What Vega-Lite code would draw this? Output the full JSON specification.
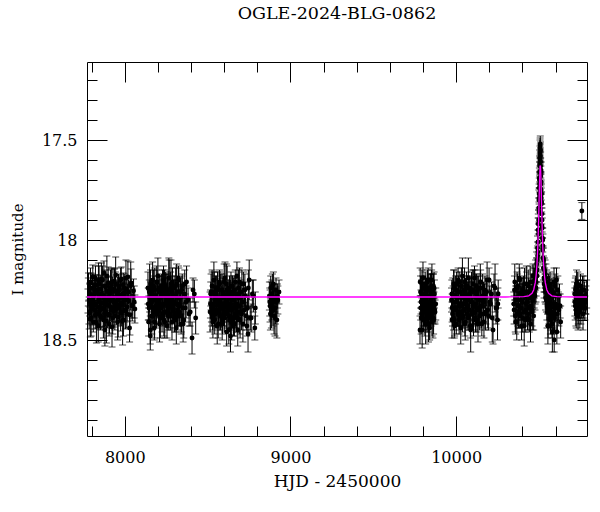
{
  "$schema": "https://vega.github.io/schema/vega-lite/v6.json",
  "width": 500,
  "height": 374,
  "autosize": "none",
  "padding": {"left": 87, "top": 62, "right": 13, "bottom": 76},
  "background": "white",
  "title": {"text": "OGLE-2024-BLG-0862", "font": "DejaVu Serif", "fontSize": 17.5, "fontWeight": "normal", "color": "black", "frame": "group", "anchor": "middle", "baseline": "alphabetic", "offset": 25},
  "config": {
    "view": {"stroke": "black", "strokeWidth": 1},
    "font": "DejaVu Serif",
    "axis": {"domain": false, "grid": false, "tickColor": "black", "tickWidth": 1, "labelColor": "black", "titleColor": "black", "labelFont": "DejaVu Serif", "titleFont": "DejaVu Serif", "labelFontSize": 16, "titleFontSize": 17, "titleFontWeight": "normal", "labelFlush": false, "labelOverlap": false, "labelBound": false}
  },
  "datasets": {
    "obs": [
      {"hjd":7778,"mag":18.305,"err":0.06},{"hjd":7781,"mag":18.235,"err":0.07},{"hjd":7785,"mag":18.365,"err":0.08},{"hjd":7789,"mag":18.275,"err":0.06},{"hjd":7792,"mag":18.395,"err":0.09},{"hjd":7796,"mag":18.215,"err":0.05},{"hjd":7800,"mag":18.315,"err":0.07},{"hjd":7803,"mag":18.345,"err":0.08},{"hjd":7807,"mag":18.185,"err":0.06},{"hjd":7811,"mag":18.285,"err":0.07},
      {"hjd":7815,"mag":18.325,"err":0.06},{"hjd":7818,"mag":18.255,"err":0.08},{"hjd":7822,"mag":18.375,"err":0.07},{"hjd":7826,"mag":18.225,"err":0.05},{"hjd":7829,"mag":18.415,"err":0.10},{"hjd":7833,"mag":18.265,"err":0.06},{"hjd":7837,"mag":18.335,"err":0.07},{"hjd":7841,"mag":18.205,"err":0.09},{"hjd":7844,"mag":18.295,"err":0.06},{"hjd":7848,"mag":18.355,"err":0.08},
      {"hjd":7852,"mag":18.245,"err":0.07},{"hjd":7856,"mag":18.385,"err":0.06},{"hjd":7859,"mag":18.195,"err":0.08},{"hjd":7863,"mag":18.315,"err":0.07},{"hjd":7867,"mag":18.275,"err":0.05},{"hjd":7870,"mag":18.345,"err":0.09},{"hjd":7874,"mag":18.165,"err":0.06},{"hjd":7878,"mag":18.365,"err":0.07},{"hjd":7882,"mag":18.305,"err":0.08},{"hjd":7885,"mag":18.235,"err":0.06},
      {"hjd":7889,"mag":18.405,"err":0.11},{"hjd":7893,"mag":18.255,"err":0.07},{"hjd":7897,"mag":18.325,"err":0.06},{"hjd":7900,"mag":18.215,"err":0.08},{"hjd":7904,"mag":18.285,"err":0.07},{"hjd":7908,"mag":18.375,"err":0.09},{"hjd":7912,"mag":18.265,"err":0.06},{"hjd":7915,"mag":18.335,"err":0.07},{"hjd":7919,"mag":18.225,"err":0.08},{"hjd":7923,"mag":18.435,"err":0.10},
      {"hjd":7927,"mag":18.245,"err":0.06},{"hjd":7930,"mag":18.295,"err":0.07},{"hjd":7934,"mag":18.355,"err":0.08},{"hjd":7938,"mag":18.205,"err":0.06},{"hjd":7942,"mag":18.315,"err":0.07},{"hjd":7945,"mag":18.175,"err":0.09},{"hjd":7949,"mag":18.345,"err":0.08},{"hjd":7953,"mag":18.305,"err":0.06},{"hjd":7957,"mag":18.255,"err":0.07},{"hjd":7960,"mag":18.385,"err":0.10},
      {"hjd":7964,"mag":18.235,"err":0.06},{"hjd":7968,"mag":18.325,"err":0.08},{"hjd":7972,"mag":18.275,"err":0.07},{"hjd":7975,"mag":18.365,"err":0.09},{"hjd":7979,"mag":18.195,"err":0.06},{"hjd":7983,"mag":18.315,"err":0.07},{"hjd":7987,"mag":18.405,"err":0.12},{"hjd":7991,"mag":18.225,"err":0.06},{"hjd":7995,"mag":18.295,"err":0.08},{"hjd":7999,"mag":18.265,"err":0.07},
      {"hjd":8004,"mag":18.355,"err":0.09},{"hjd":8009,"mag":18.245,"err":0.06},{"hjd":8014,"mag":18.335,"err":0.07},{"hjd":8019,"mag":18.185,"err":0.08},{"hjd":8025,"mag":18.305,"err":0.06},{"hjd":8031,"mag":18.375,"err":0.10},{"hjd":8038,"mag":18.215,"err":0.07},{"hjd":8045,"mag":18.325,"err":0.08},{"hjd":8053,"mag":18.255,"err":0.06},{"hjd":8061,"mag":18.345,"err":0.07},
      {"hjd":7880,"mag":18.45,"err":0.08},
      {"hjd":7780,"mag":18.26,"err":0.07},{"hjd":7784,"mag":18.36,"err":0.06},{"hjd":7788,"mag":18.30,"err":0.08},{"hjd":7793,"mag":18.21,"err":0.07},{"hjd":7797,"mag":18.39,"err":0.09},{"hjd":7802,"mag":18.33,"err":0.06},{"hjd":7806,"mag":18.24,"err":0.07},{"hjd":7810,"mag":18.41,"err":0.05},{"hjd":7814,"mag":18.28,"err":0.08},{"hjd":7819,"mag":18.35,"err":0.07},
      {"hjd":7823,"mag":18.19,"err":0.06},{"hjd":7827,"mag":18.32,"err":0.10},{"hjd":7832,"mag":18.37,"err":0.07},{"hjd":7836,"mag":18.25,"err":0.06},{"hjd":7840,"mag":18.43,"err":0.08},{"hjd":7845,"mag":18.22,"err":0.09},{"hjd":7849,"mag":18.31,"err":0.06},{"hjd":7853,"mag":18.38,"err":0.07},{"hjd":7858,"mag":18.27,"err":0.08},{"hjd":7862,"mag":18.34,"err":0.06},
      {"hjd":7866,"mag":18.20,"err":0.07},{"hjd":7871,"mag":18.40,"err":0.09},{"hjd":7875,"mag":18.29,"err":0.06},{"hjd":7880,"mag":18.23,"err":0.08},{"hjd":7884,"mag":18.36,"err":0.07},{"hjd":7888,"mag":18.32,"err":0.06},{"hjd":7892,"mag":18.18,"err":0.10},{"hjd":7897,"mag":18.37,"err":0.07},{"hjd":7901,"mag":18.26,"err":0.08},{"hjd":7905,"mag":18.42,"err":0.06},
      {"hjd":7910,"mag":18.30,"err":0.07},{"hjd":7914,"mag":18.24,"err":0.09},{"hjd":7918,"mag":18.35,"err":0.06},{"hjd":7923,"mag":18.21,"err":0.07},{"hjd":7927,"mag":18.39,"err":0.08},{"hjd":7931,"mag":18.31,"err":0.06},{"hjd":7936,"mag":18.25,"err":0.11},{"hjd":7940,"mag":18.38,"err":0.07},{"hjd":7944,"mag":18.22,"err":0.06},{"hjd":7949,"mag":18.33,"err":0.08},
      {"hjd":7953,"mag":18.28,"err":0.07},{"hjd":7957,"mag":18.41,"err":0.09},{"hjd":7962,"mag":18.23,"err":0.06},{"hjd":7966,"mag":18.34,"err":0.07},{"hjd":7970,"mag":18.29,"err":0.08},{"hjd":7975,"mag":18.20,"err":0.06},{"hjd":7979,"mag":18.36,"err":0.07},{"hjd":7983,"mag":18.32,"err":0.10},{"hjd":7988,"mag":18.27,"err":0.06},{"hjd":7992,"mag":18.40,"err":0.08},
      {"hjd":7997,"mag":18.24,"err":0.07},{"hjd":8002,"mag":18.35,"err":0.06},{"hjd":8007,"mag":18.19,"err":0.09},{"hjd":8012,"mag":18.37,"err":0.07},{"hjd":8017,"mag":18.30,"err":0.08},{"hjd":8023,"mag":18.26,"err":0.06},{"hjd":8029,"mag":18.44,"err":0.07},{"hjd":8036,"mag":18.23,"err":0.12},{"hjd":8044,"mag":18.33,"err":0.06},{"hjd":8057,"mag":18.31,"err":0.08},
      {"hjd":8140,"mag":18.24,"err":0.08},{"hjd":8144,"mag":18.41,"err":0.07},{"hjd":8148,"mag":18.26,"err":0.06},{"hjd":8151,"mag":18.33,"err":0.08},{"hjd":8155,"mag":18.22,"err":0.07},{"hjd":8159,"mag":18.29,"err":0.05},{"hjd":8163,"mag":18.38,"err":0.09},{"hjd":8166,"mag":18.27,"err":0.06},{"hjd":8170,"mag":18.34,"err":0.07},{"hjd":8174,"mag":18.23,"err":0.08},
      {"hjd":8178,"mag":18.44,"err":0.06},{"hjd":8181,"mag":18.25,"err":0.11},{"hjd":8185,"mag":18.30,"err":0.07},{"hjd":8189,"mag":18.36,"err":0.06},{"hjd":8193,"mag":18.21,"err":0.08},{"hjd":8196,"mag":18.32,"err":0.07},{"hjd":8200,"mag":18.18,"err":0.09},{"hjd":8204,"mag":18.35,"err":0.06},{"hjd":8208,"mag":18.31,"err":0.07},{"hjd":8211,"mag":18.26,"err":0.08},
      {"hjd":8215,"mag":18.39,"err":0.10},{"hjd":8219,"mag":18.24,"err":0.06},{"hjd":8223,"mag":18.33,"err":0.07},{"hjd":8226,"mag":18.28,"err":0.08},{"hjd":8230,"mag":18.37,"err":0.06},{"hjd":8234,"mag":18.20,"err":0.07},{"hjd":8238,"mag":18.32,"err":0.09},{"hjd":8241,"mag":18.41,"err":0.08},{"hjd":8245,"mag":18.23,"err":0.06},{"hjd":8249,"mag":18.30,"err":0.07},
      {"hjd":8253,"mag":18.27,"err":0.10},{"hjd":8256,"mag":18.36,"err":0.06},{"hjd":8260,"mag":18.25,"err":0.08},{"hjd":8264,"mag":18.34,"err":0.07},{"hjd":8268,"mag":18.19,"err":0.09},{"hjd":8271,"mag":18.31,"err":0.06},{"hjd":8275,"mag":18.38,"err":0.07},{"hjd":8279,"mag":18.22,"err":0.12},{"hjd":8283,"mag":18.33,"err":0.06},{"hjd":8286,"mag":18.26,"err":0.08},
      {"hjd":8290,"mag":18.35,"err":0.07},{"hjd":8294,"mag":18.31,"err":0.09},{"hjd":8298,"mag":18.24,"err":0.06},{"hjd":8301,"mag":18.37,"err":0.07},{"hjd":8305,"mag":18.28,"err":0.08},{"hjd":8309,"mag":18.40,"err":0.06},{"hjd":8313,"mag":18.22,"err":0.10},{"hjd":8316,"mag":18.32,"err":0.07},{"hjd":8320,"mag":18.35,"err":0.08},{"hjd":8324,"mag":18.19,"err":0.06},
      {"hjd":8328,"mag":18.29,"err":0.07},{"hjd":8332,"mag":18.33,"err":0.06},{"hjd":8337,"mag":18.26,"err":0.07},{"hjd":8342,"mag":18.38,"err":0.08},{"hjd":8347,"mag":18.23,"err":0.06},{"hjd":8352,"mag":18.42,"err":0.09},{"hjd":8358,"mag":18.27,"err":0.05},{"hjd":8365,"mag":18.34,"err":0.07},{"hjd":8373,"mag":18.21,"err":0.08},{"hjd":8382,"mag":18.30,"err":0.06},
      {"hjd":8395,"mag":18.36,"err":0.07},{"hjd":8412,"mag":18.25,"err":0.06},{"hjd":8428,"mag":18.39,"err":0.08},{"hjd":8406,"mag":18.49,"err":0.08},{"hjd":8154,"mag":18.48,"err":0.07},
      {"hjd":8142,"mag":18.32,"err":0.08},{"hjd":8146,"mag":18.34,"err":0.06},{"hjd":8150,"mag":18.24,"err":0.12},{"hjd":8154,"mag":18.45,"err":0.07},{"hjd":8157,"mag":18.27,"err":0.06},{"hjd":8161,"mag":18.31,"err":0.08},{"hjd":8165,"mag":18.38,"err":0.07},{"hjd":8168,"mag":18.20,"err":0.09},{"hjd":8172,"mag":18.36,"err":0.06},{"hjd":8176,"mag":18.25,"err":0.07},
      {"hjd":8180,"mag":18.41,"err":0.08},{"hjd":8183,"mag":18.28,"err":0.06},{"hjd":8187,"mag":18.33,"err":0.10},{"hjd":8191,"mag":18.37,"err":0.07},{"hjd":8195,"mag":18.21,"err":0.06},{"hjd":8198,"mag":18.30,"err":0.08},{"hjd":8202,"mag":18.35,"err":0.07},{"hjd":8206,"mag":18.24,"err":0.06},{"hjd":8210,"mag":18.42,"err":0.09},{"hjd":8213,"mag":18.29,"err":0.07},
      {"hjd":8217,"mag":18.34,"err":0.08},{"hjd":8221,"mag":18.23,"err":0.06},{"hjd":8225,"mag":18.39,"err":0.07},{"hjd":8228,"mag":18.26,"err":0.11},{"hjd":8232,"mag":18.32,"err":0.06},{"hjd":8236,"mag":18.40,"err":0.08},{"hjd":8240,"mag":18.22,"err":0.07},{"hjd":8243,"mag":18.36,"err":0.06},{"hjd":8247,"mag":18.25,"err":0.09},{"hjd":8251,"mag":18.31,"err":0.07},
      {"hjd":8255,"mag":18.43,"err":0.06},{"hjd":8258,"mag":18.27,"err":0.08},{"hjd":8262,"mag":18.38,"err":0.07},{"hjd":8266,"mag":18.19,"err":0.10},{"hjd":8270,"mag":18.33,"err":0.06},{"hjd":8273,"mag":18.37,"err":0.07},{"hjd":8277,"mag":18.24,"err":0.08},{"hjd":8281,"mag":18.30,"err":0.06},{"hjd":8285,"mag":18.41,"err":0.09},{"hjd":8288,"mag":18.21,"err":0.07},
      {"hjd":8292,"mag":18.35,"err":0.06},{"hjd":8296,"mag":18.28,"err":0.08},{"hjd":8300,"mag":18.39,"err":0.07},{"hjd":8303,"mag":18.32,"err":0.06},{"hjd":8307,"mag":18.23,"err":0.09},{"hjd":8311,"mag":18.44,"err":0.08},{"hjd":8315,"mag":18.26,"err":0.06},{"hjd":8318,"mag":18.38,"err":0.07},{"hjd":8322,"mag":18.33,"err":0.10},{"hjd":8326,"mag":18.20,"err":0.06},
      {"hjd":8330,"mag":18.36,"err":0.07},{"hjd":8335,"mag":18.29,"err":0.08},{"hjd":8340,"mag":18.42,"err":0.05},{"hjd":8345,"mag":18.25,"err":0.07},{"hjd":8350,"mag":18.34,"err":0.06},{"hjd":8356,"mag":18.40,"err":0.09},{"hjd":8362,"mag":18.22,"err":0.07},{"hjd":8370,"mag":18.31,"err":0.08},{"hjd":8388,"mag":18.37,"err":0.06},{"hjd":8420,"mag":18.27,"err":0.07},
      {"hjd":8515,"mag":18.36,"err":0.10},{"hjd":8519,"mag":18.27,"err":0.06},{"hjd":8523,"mag":18.34,"err":0.07},{"hjd":8527,"mag":18.23,"err":0.08},{"hjd":8530,"mag":18.39,"err":0.06},{"hjd":8534,"mag":18.32,"err":0.07},{"hjd":8538,"mag":18.20,"err":0.09},{"hjd":8542,"mag":18.35,"err":0.08},{"hjd":8545,"mag":18.26,"err":0.06},{"hjd":8549,"mag":18.37,"err":0.07},
      {"hjd":8553,"mag":18.28,"err":0.10},{"hjd":8557,"mag":18.31,"err":0.06},{"hjd":8560,"mag":18.24,"err":0.08},{"hjd":8564,"mag":18.42,"err":0.07},{"hjd":8568,"mag":18.33,"err":0.09},{"hjd":8572,"mag":18.21,"err":0.06},{"hjd":8575,"mag":18.38,"err":0.07},{"hjd":8579,"mag":18.29,"err":0.12},{"hjd":8583,"mag":18.34,"err":0.06},{"hjd":8587,"mag":18.25,"err":0.08},
      {"hjd":8590,"mag":18.40,"err":0.07},{"hjd":8594,"mag":18.27,"err":0.09},{"hjd":8598,"mag":18.32,"err":0.06},{"hjd":8602,"mag":18.36,"err":0.07},{"hjd":8605,"mag":18.19,"err":0.08},{"hjd":8609,"mag":18.33,"err":0.06},{"hjd":8613,"mag":18.22,"err":0.10},{"hjd":8617,"mag":18.37,"err":0.07},{"hjd":8620,"mag":18.31,"err":0.08},{"hjd":8624,"mag":18.26,"err":0.06},
      {"hjd":8628,"mag":18.45,"err":0.07},{"hjd":8632,"mag":18.24,"err":0.06},{"hjd":8635,"mag":18.35,"err":0.07},{"hjd":8639,"mag":18.28,"err":0.08},{"hjd":8643,"mag":18.39,"err":0.06},{"hjd":8647,"mag":18.30,"err":0.09},{"hjd":8650,"mag":18.23,"err":0.05},{"hjd":8654,"mag":18.34,"err":0.07},{"hjd":8658,"mag":18.27,"err":0.08},{"hjd":8662,"mag":18.42,"err":0.06},
      {"hjd":8665,"mag":18.25,"err":0.07},{"hjd":8669,"mag":18.32,"err":0.06},{"hjd":8673,"mag":18.38,"err":0.08},{"hjd":8677,"mag":18.18,"err":0.07},{"hjd":8680,"mag":18.36,"err":0.05},{"hjd":8684,"mag":18.29,"err":0.10},{"hjd":8688,"mag":18.33,"err":0.06},{"hjd":8692,"mag":18.21,"err":0.07},{"hjd":8696,"mag":18.40,"err":0.09},{"hjd":8700,"mag":18.26,"err":0.06},
      {"hjd":8705,"mag":18.37,"err":0.08},{"hjd":8710,"mag":18.31,"err":0.07},{"hjd":8716,"mag":18.22,"err":0.06},{"hjd":8722,"mag":18.35,"err":0.08},{"hjd":8729,"mag":18.28,"err":0.07},{"hjd":8737,"mag":18.43,"err":0.05},{"hjd":8746,"mag":18.24,"err":0.09},{"hjd":8757,"mag":18.39,"err":0.06},{"hjd":8770,"mag":18.27,"err":0.07},{"hjd":8788,"mag":18.34,"err":0.08},
      {"hjd":8638,"mag":18.48,"err":0.08},{"hjd":8744,"mag":18.47,"err":0.09},
      {"hjd":8517,"mag":18.32,"err":0.07},{"hjd":8521,"mag":18.26,"err":0.09},{"hjd":8525,"mag":18.37,"err":0.06},{"hjd":8528,"mag":18.23,"err":0.07},{"hjd":8532,"mag":18.41,"err":0.08},{"hjd":8536,"mag":18.33,"err":0.06},{"hjd":8540,"mag":18.27,"err":0.11},{"hjd":8543,"mag":18.40,"err":0.07},{"hjd":8547,"mag":18.24,"err":0.06},{"hjd":8551,"mag":18.35,"err":0.08},
      {"hjd":8555,"mag":18.30,"err":0.07},{"hjd":8558,"mag":18.43,"err":0.09},{"hjd":8562,"mag":18.25,"err":0.06},{"hjd":8566,"mag":18.36,"err":0.07},{"hjd":8570,"mag":18.31,"err":0.08},{"hjd":8573,"mag":18.22,"err":0.06},{"hjd":8577,"mag":18.38,"err":0.07},{"hjd":8581,"mag":18.34,"err":0.10},{"hjd":8585,"mag":18.29,"err":0.06},{"hjd":8588,"mag":18.42,"err":0.08},
      {"hjd":8592,"mag":18.26,"err":0.07},{"hjd":8596,"mag":18.37,"err":0.06},{"hjd":8600,"mag":18.21,"err":0.09},{"hjd":8603,"mag":18.39,"err":0.07},{"hjd":8607,"mag":18.32,"err":0.08},{"hjd":8611,"mag":18.28,"err":0.06},{"hjd":8615,"mag":18.46,"err":0.07},{"hjd":8618,"mag":18.25,"err":0.12},{"hjd":8622,"mag":18.35,"err":0.06},{"hjd":8626,"mag":18.33,"err":0.08},
      {"hjd":8630,"mag":18.28,"err":0.07},{"hjd":8633,"mag":18.38,"err":0.06},{"hjd":8637,"mag":18.32,"err":0.08},{"hjd":8641,"mag":18.23,"err":0.07},{"hjd":8645,"mag":18.41,"err":0.09},{"hjd":8648,"mag":18.35,"err":0.06},{"hjd":8652,"mag":18.26,"err":0.07},{"hjd":8656,"mag":18.43,"err":0.05},{"hjd":8660,"mag":18.30,"err":0.08},{"hjd":8663,"mag":18.37,"err":0.07},
      {"hjd":8667,"mag":18.21,"err":0.06},{"hjd":8671,"mag":18.34,"err":0.10},{"hjd":8675,"mag":18.39,"err":0.07},{"hjd":8678,"mag":18.27,"err":0.06},{"hjd":8682,"mag":18.45,"err":0.08},{"hjd":8686,"mag":18.24,"err":0.09},{"hjd":8690,"mag":18.33,"err":0.06},{"hjd":8694,"mag":18.40,"err":0.07},{"hjd":8698,"mag":18.29,"err":0.08},{"hjd":8702,"mag":18.36,"err":0.06},
      {"hjd":8707,"mag":18.22,"err":0.07},{"hjd":8713,"mag":18.42,"err":0.09},{"hjd":8719,"mag":18.31,"err":0.06},{"hjd":8725,"mag":18.25,"err":0.08},{"hjd":8733,"mag":18.38,"err":0.07},{"hjd":8741,"mag":18.34,"err":0.06},{"hjd":8751,"mag":18.20,"err":0.10},{"hjd":8763,"mag":18.39,"err":0.07},{"hjd":8776,"mag":18.28,"err":0.08},{"hjd":8785,"mag":18.44,"err":0.06},
      {"hjd":8873,"mag":18.28,"err":0.07},{"hjd":8877,"mag":18.33,"err":0.08},{"hjd":8881,"mag":18.24,"err":0.06},{"hjd":8885,"mag":18.36,"err":0.08},{"hjd":8889,"mag":18.27,"err":0.07},{"hjd":8893,"mag":18.31,"err":0.07},{"hjd":8897,"mag":18.22,"err":0.06},{"hjd":8901,"mag":18.38,"err":0.09},{"hjd":8905,"mag":18.29,"err":0.07},{"hjd":8909,"mag":18.34,"err":0.08},{"hjd":8913,"mag":18.25,"err":0.06},{"hjd":8918,"mag":18.40,"err":0.09},{"hjd":8924,"mag":18.30,"err":0.07},{"hjd":8931,"mag":18.26,"err":0.06},
      {"hjd":8875,"mag":18.31,"err":0.07},{"hjd":8879,"mag":18.37,"err":0.08},{"hjd":8883,"mag":18.27,"err":0.06},{"hjd":8887,"mag":18.33,"err":0.07},{"hjd":8891,"mag":18.23,"err":0.06},{"hjd":8895,"mag":18.35,"err":0.08},{"hjd":8899,"mag":18.29,"err":0.07},{"hjd":8907,"mag":18.39,"err":0.09},{"hjd":8915,"mag":18.31,"err":0.07},{"hjd":8921,"mag":18.28,"err":0.06},
      {"hjd":9782,"mag":18.45,"err":0.07},{"hjd":9785,"mag":18.26,"err":0.08},{"hjd":9788,"mag":18.31,"err":0.06},{"hjd":9791,"mag":18.37,"err":0.09},{"hjd":9794,"mag":18.22,"err":0.07},{"hjd":9797,"mag":18.33,"err":0.06},{"hjd":9800,"mag":18.19,"err":0.08},{"hjd":9803,"mag":18.36,"err":0.07},{"hjd":9806,"mag":18.32,"err":0.09},{"hjd":9809,"mag":18.27,"err":0.06},
      {"hjd":9812,"mag":18.40,"err":0.08},{"hjd":9815,"mag":18.25,"err":0.07},{"hjd":9818,"mag":18.34,"err":0.06},{"hjd":9821,"mag":18.29,"err":0.10},{"hjd":9824,"mag":18.38,"err":0.07},{"hjd":9827,"mag":18.21,"err":0.06},{"hjd":9830,"mag":18.33,"err":0.08},{"hjd":9833,"mag":18.42,"err":0.09},{"hjd":9836,"mag":18.24,"err":0.07},{"hjd":9839,"mag":18.31,"err":0.06},
      {"hjd":9842,"mag":18.28,"err":0.08},{"hjd":9845,"mag":18.37,"err":0.07},{"hjd":9848,"mag":18.26,"err":0.09},{"hjd":9851,"mag":18.35,"err":0.06},{"hjd":9854,"mag":18.20,"err":0.08},{"hjd":9857,"mag":18.32,"err":0.07},{"hjd":9860,"mag":18.39,"err":0.10},{"hjd":9863,"mag":18.23,"err":0.06},{"hjd":9866,"mag":18.34,"err":0.08},{"hjd":9869,"mag":18.27,"err":0.07},
      {"hjd":9873,"mag":18.36,"err":0.06},{"hjd":9877,"mag":18.32,"err":0.08},
      {"hjd":9783,"mag":18.21,"err":0.07},{"hjd":9786,"mag":18.34,"err":0.06},{"hjd":9789,"mag":18.39,"err":0.08},{"hjd":9792,"mag":18.27,"err":0.07},{"hjd":9795,"mag":18.45,"err":0.09},{"hjd":9798,"mag":18.24,"err":0.06},{"hjd":9801,"mag":18.33,"err":0.07},{"hjd":9804,"mag":18.40,"err":0.05},{"hjd":9807,"mag":18.29,"err":0.08},{"hjd":9810,"mag":18.36,"err":0.07},
      {"hjd":9813,"mag":18.22,"err":0.06},{"hjd":9816,"mag":18.42,"err":0.10},{"hjd":9819,"mag":18.31,"err":0.07},{"hjd":9822,"mag":18.25,"err":0.06},{"hjd":9825,"mag":18.38,"err":0.08},{"hjd":9828,"mag":18.34,"err":0.09},{"hjd":9831,"mag":18.20,"err":0.06},{"hjd":9834,"mag":18.39,"err":0.07},{"hjd":9837,"mag":18.28,"err":0.08},{"hjd":9840,"mag":18.44,"err":0.06},
      {"hjd":9843,"mag":18.32,"err":0.07},{"hjd":9846,"mag":18.26,"err":0.09},{"hjd":9849,"mag":18.37,"err":0.06},{"hjd":9852,"mag":18.23,"err":0.08},{"hjd":9855,"mag":18.41,"err":0.07},{"hjd":9858,"mag":18.33,"err":0.06},{"hjd":9861,"mag":18.27,"err":0.10},{"hjd":9864,"mag":18.40,"err":0.07},{"hjd":9867,"mag":18.24,"err":0.08},{"hjd":9871,"mag":18.35,"err":0.06},
      {"hjd":9972,"mag":18.30,"err":0.06},{"hjd":9976,"mag":18.34,"err":0.07},{"hjd":9980,"mag":18.27,"err":0.08},{"hjd":9984,"mag":18.39,"err":0.06},{"hjd":9987,"mag":18.24,"err":0.09},{"hjd":9991,"mag":18.43,"err":0.05},{"hjd":9995,"mag":18.28,"err":0.07},{"hjd":9999,"mag":18.35,"err":0.08},{"hjd":10003,"mag":18.22,"err":0.06},{"hjd":10007,"mag":18.31,"err":0.07},
      {"hjd":10011,"mag":18.37,"err":0.06},{"hjd":10014,"mag":18.26,"err":0.08},{"hjd":10018,"mag":18.40,"err":0.07},{"hjd":10022,"mag":18.21,"err":0.05},{"hjd":10026,"mag":18.33,"err":0.10},{"hjd":10030,"mag":18.29,"err":0.06},{"hjd":10034,"mag":18.36,"err":0.07},{"hjd":10038,"mag":18.18,"err":0.09},{"hjd":10041,"mag":18.38,"err":0.06},{"hjd":10045,"mag":18.32,"err":0.08},
      {"hjd":10049,"mag":18.25,"err":0.07},{"hjd":10053,"mag":18.42,"err":0.06},{"hjd":10057,"mag":18.27,"err":0.08},{"hjd":10061,"mag":18.34,"err":0.07},{"hjd":10065,"mag":18.23,"err":0.05},{"hjd":10068,"mag":18.30,"err":0.09},{"hjd":10072,"mag":18.39,"err":0.06},{"hjd":10076,"mag":18.28,"err":0.07},{"hjd":10080,"mag":18.35,"err":0.08},{"hjd":10084,"mag":18.24,"err":0.06},
      {"hjd":10088,"mag":18.45,"err":0.11},{"hjd":10092,"mag":18.26,"err":0.07},{"hjd":10095,"mag":18.31,"err":0.06},{"hjd":10099,"mag":18.37,"err":0.08},{"hjd":10103,"mag":18.22,"err":0.07},{"hjd":10107,"mag":18.33,"err":0.09},{"hjd":10111,"mag":18.19,"err":0.06},{"hjd":10115,"mag":18.36,"err":0.07},{"hjd":10119,"mag":18.32,"err":0.08},{"hjd":10122,"mag":18.27,"err":0.10},
      {"hjd":10126,"mag":18.40,"err":0.06},{"hjd":10130,"mag":18.25,"err":0.07},{"hjd":10134,"mag":18.34,"err":0.08},{"hjd":10138,"mag":18.29,"err":0.06},{"hjd":10142,"mag":18.38,"err":0.07},{"hjd":10146,"mag":18.21,"err":0.09},{"hjd":10150,"mag":18.33,"err":0.08},{"hjd":10155,"mag":18.42,"err":0.06},{"hjd":10160,"mag":18.24,"err":0.07},{"hjd":10165,"mag":18.31,"err":0.10},
      {"hjd":10171,"mag":18.28,"err":0.06},{"hjd":10177,"mag":18.37,"err":0.08},{"hjd":10184,"mag":18.26,"err":0.07},{"hjd":10191,"mag":18.35,"err":0.09},{"hjd":10199,"mag":18.20,"err":0.06},{"hjd":10208,"mag":18.32,"err":0.07},{"hjd":10218,"mag":18.39,"err":0.12},{"hjd":10229,"mag":18.23,"err":0.06},{"hjd":10241,"mag":18.34,"err":0.08},{"hjd":10254,"mag":18.27,"err":0.07},
      {"hjd":9975,"mag":18.40,"err":0.09},{"hjd":10250,"mag":18.40,"err":0.10},
      {"hjd":9974,"mag":18.27,"err":0.07},{"hjd":9978,"mag":18.37,"err":0.06},{"hjd":9982,"mag":18.31,"err":0.08},{"hjd":9985,"mag":18.22,"err":0.07},{"hjd":9989,"mag":18.40,"err":0.09},{"hjd":9993,"mag":18.34,"err":0.06},{"hjd":9997,"mag":18.25,"err":0.07},{"hjd":10001,"mag":18.42,"err":0.05},{"hjd":10005,"mag":18.29,"err":0.08},{"hjd":10009,"mag":18.36,"err":0.07},
      {"hjd":10012,"mag":18.20,"err":0.06},{"hjd":10016,"mag":18.33,"err":0.10},{"hjd":10020,"mag":18.38,"err":0.07},{"hjd":10024,"mag":18.26,"err":0.06},{"hjd":10028,"mag":18.44,"err":0.08},{"hjd":10032,"mag":18.23,"err":0.09},{"hjd":10036,"mag":18.32,"err":0.06},{"hjd":10039,"mag":18.39,"err":0.07},{"hjd":10043,"mag":18.28,"err":0.08},{"hjd":10047,"mag":18.35,"err":0.06},
      {"hjd":10051,"mag":18.21,"err":0.07},{"hjd":10055,"mag":18.41,"err":0.09},{"hjd":10059,"mag":18.30,"err":0.06},{"hjd":10063,"mag":18.24,"err":0.08},{"hjd":10066,"mag":18.37,"err":0.07},{"hjd":10070,"mag":18.33,"err":0.06},{"hjd":10074,"mag":18.19,"err":0.10},{"hjd":10078,"mag":18.38,"err":0.07},{"hjd":10082,"mag":18.27,"err":0.08},{"hjd":10086,"mag":18.43,"err":0.06},
      {"hjd":10090,"mag":18.31,"err":0.07},{"hjd":10093,"mag":18.25,"err":0.09},{"hjd":10097,"mag":18.36,"err":0.06},{"hjd":10101,"mag":18.22,"err":0.07},{"hjd":10105,"mag":18.40,"err":0.08},{"hjd":10109,"mag":18.32,"err":0.06},{"hjd":10113,"mag":18.26,"err":0.11},{"hjd":10117,"mag":18.39,"err":0.07},{"hjd":10120,"mag":18.23,"err":0.06},{"hjd":10124,"mag":18.34,"err":0.08},
      {"hjd":10128,"mag":18.29,"err":0.07},{"hjd":10132,"mag":18.42,"err":0.09},{"hjd":10136,"mag":18.24,"err":0.06},{"hjd":10140,"mag":18.35,"err":0.07},{"hjd":10144,"mag":18.30,"err":0.08},{"hjd":10148,"mag":18.21,"err":0.06},{"hjd":10152,"mag":18.37,"err":0.07},{"hjd":10157,"mag":18.33,"err":0.10},{"hjd":10162,"mag":18.28,"err":0.06},{"hjd":10168,"mag":18.41,"err":0.08},
      {"hjd":10174,"mag":18.25,"err":0.07},{"hjd":10180,"mag":18.36,"err":0.06},{"hjd":10187,"mag":18.20,"err":0.09},{"hjd":10195,"mag":18.38,"err":0.07},{"hjd":10203,"mag":18.31,"err":0.08},{"hjd":10213,"mag":18.27,"err":0.06},{"hjd":10223,"mag":18.45,"err":0.07},{"hjd":10235,"mag":18.24,"err":0.12},{"hjd":10245,"mag":18.34,"err":0.06},{"hjd":10252,"mag":18.32,"err":0.08},
      {"hjd":10348,"mag":18.32,"err":0.06},{"hjd":10352,"mag":18.25,"err":0.07},{"hjd":10357,"mag":18.38,"err":0.08},{"hjd":10361,"mag":18.29,"err":0.06},{"hjd":10366,"mag":18.41,"err":0.09},{"hjd":10370,"mag":18.23,"err":0.06},{"hjd":10375,"mag":18.33,"err":0.07},{"hjd":10379,"mag":18.36,"err":0.08},{"hjd":10384,"mag":18.20,"err":0.06},{"hjd":10388,"mag":18.30,"err":0.07},
      {"hjd":10393,"mag":18.34,"err":0.06},{"hjd":10397,"mag":18.27,"err":0.08},{"hjd":10402,"mag":18.39,"err":0.07},{"hjd":10406,"mag":18.24,"err":0.06},{"hjd":10411,"mag":18.43,"err":0.10},{"hjd":10415,"mag":18.28,"err":0.06},{"hjd":10420,"mag":18.35,"err":0.07},{"hjd":10424,"mag":18.22,"err":0.09},{"hjd":10429,"mag":18.31,"err":0.06},{"hjd":10433,"mag":18.37,"err":0.08},
      {"hjd":10438,"mag":18.26,"err":0.07},{"hjd":10442,"mag":18.40,"err":0.06},{"hjd":10447,"mag":18.21,"err":0.08},{"hjd":10451,"mag":18.33,"err":0.07},{"hjd":10456,"mag":18.29,"err":0.06},{"hjd":10460,"mag":18.36,"err":0.09},{"hjd":10464,"mag":18.18,"err":0.06},{"hjd":10468,"mag":18.38,"err":0.07},
      {"hjd":10350,"mag":18.35,"err":0.07},{"hjd":10354,"mag":18.21,"err":0.09},{"hjd":10359,"mag":18.41,"err":0.06},{"hjd":10363,"mag":18.30,"err":0.07},{"hjd":10368,"mag":18.24,"err":0.08},{"hjd":10372,"mag":18.37,"err":0.06},{"hjd":10377,"mag":18.33,"err":0.11},{"hjd":10381,"mag":18.19,"err":0.07},{"hjd":10386,"mag":18.38,"err":0.06},{"hjd":10390,"mag":18.27,"err":0.08},
      {"hjd":10395,"mag":18.43,"err":0.07},{"hjd":10399,"mag":18.31,"err":0.09},{"hjd":10404,"mag":18.25,"err":0.06},{"hjd":10408,"mag":18.36,"err":0.07},{"hjd":10413,"mag":18.22,"err":0.08},{"hjd":10417,"mag":18.40,"err":0.06},{"hjd":10422,"mag":18.32,"err":0.07},{"hjd":10426,"mag":18.26,"err":0.10},{"hjd":10431,"mag":18.39,"err":0.06},{"hjd":10435,"mag":18.23,"err":0.08},
      {"hjd":10440,"mag":18.34,"err":0.07},{"hjd":10444,"mag":18.29,"err":0.06},{"hjd":10449,"mag":18.42,"err":0.09},{"hjd":10453,"mag":18.24,"err":0.07},{"hjd":10458,"mag":18.35,"err":0.08},{"hjd":10462,"mag":18.30,"err":0.06},{"hjd":10466,"mag":18.21,"err":0.07},
      {"hjd":10471,"mag":18.27,"err":0.07},{"hjd":10474,"mag":18.20,"err":0.06},{"hjd":10477,"mag":18.25,"err":0.07},{"hjd":10480,"mag":18.16,"err":0.06},{"hjd":10483,"mag":18.21,"err":0.07},{"hjd":10486,"mag":18.12,"err":0.06},{"hjd":10489,"mag":18.15,"err":0.06},{"hjd":10491,"mag":18.04,"err":0.06},{"hjd":10493,"mag":18.06,"err":0.05},{"hjd":10495,"mag":17.95,"err":0.06},
      {"hjd":10497,"mag":17.97,"err":0.05},{"hjd":10499,"mag":17.84,"err":0.05},{"hjd":10500,"mag":17.86,"err":0.05},{"hjd":10501,"mag":17.77,"err":0.05},{"hjd":10502,"mag":17.74,"err":0.05},{"hjd":10503,"mag":17.70,"err":0.04},{"hjd":10504,"mag":17.66,"err":0.05},{"hjd":10505,"mag":17.62,"err":0.04},{"hjd":10506,"mag":17.57,"err":0.04},{"hjd":10506.5,"mag":17.54,"err":0.04},
      {"hjd":10507,"mag":17.53,"err":0.04},{"hjd":10507.5,"mag":17.60,"err":0.05},{"hjd":10508,"mag":17.52,"err":0.04},{"hjd":10508.5,"mag":17.56,"err":0.04},{"hjd":10509,"mag":17.58,"err":0.04},{"hjd":10510,"mag":17.61,"err":0.05},{"hjd":10511,"mag":17.65,"err":0.04},{"hjd":10512,"mag":17.72,"err":0.05},{"hjd":10513,"mag":17.71,"err":0.05},{"hjd":10514,"mag":17.79,"err":0.05},
      {"hjd":10515,"mag":17.82,"err":0.05},{"hjd":10516,"mag":17.81,"err":0.05},{"hjd":10518,"mag":17.93,"err":0.06},{"hjd":10520,"mag":17.94,"err":0.05},{"hjd":10522,"mag":18.05,"err":0.06},{"hjd":10524,"mag":18.03,"err":0.06},{"hjd":10527,"mag":18.14,"err":0.06},{"hjd":10530,"mag":18.19,"err":0.07},{"hjd":10533,"mag":18.15,"err":0.06},{"hjd":10536,"mag":18.24,"err":0.07},
      {"hjd":10539,"mag":18.26,"err":0.06},{"hjd":10542,"mag":18.19,"err":0.07},{"hjd":10545,"mag":18.30,"err":0.06},{"hjd":10548,"mag":18.33,"err":0.07},
      {"hjd":10472,"mag":18.23,"err":0.06},{"hjd":10476,"mag":18.28,"err":0.07},{"hjd":10479,"mag":18.19,"err":0.06},{"hjd":10482,"mag":18.24,"err":0.07},{"hjd":10485,"mag":18.15,"err":0.06},{"hjd":10488,"mag":18.18,"err":0.06},{"hjd":10490,"mag":18.10,"err":0.06},{"hjd":10492,"mag":18.08,"err":0.05},{"hjd":10494,"mag":18.01,"err":0.06},{"hjd":10496,"mag":17.92,"err":0.05},
      {"hjd":10498,"mag":17.90,"err":0.05},{"hjd":10499.5,"mag":17.80,"err":0.05},{"hjd":10501.5,"mag":17.79,"err":0.05},{"hjd":10502.5,"mag":17.69,"err":0.05},{"hjd":10503.5,"mag":17.72,"err":0.04},{"hjd":10504.5,"mag":17.63,"err":0.04},{"hjd":10505.5,"mag":17.59,"err":0.04},{"hjd":10509.5,"mag":17.55,"err":0.04},{"hjd":10510.5,"mag":17.63,"err":0.04},{"hjd":10511.5,"mag":17.68,"err":0.05},
      {"hjd":10512.5,"mag":17.66,"err":0.05},{"hjd":10513.5,"mag":17.75,"err":0.05},{"hjd":10515.5,"mag":17.77,"err":0.05},{"hjd":10517,"mag":17.87,"err":0.05},{"hjd":10519,"mag":17.90,"err":0.06},{"hjd":10521,"mag":17.99,"err":0.05},{"hjd":10523,"mag":18.00,"err":0.06},{"hjd":10525,"mag":18.09,"err":0.06},{"hjd":10528,"mag":18.10,"err":0.06},{"hjd":10531,"mag":18.22,"err":0.07},
      {"hjd":10534,"mag":18.20,"err":0.06},{"hjd":10537,"mag":18.17,"err":0.07},{"hjd":10540,"mag":18.29,"err":0.06},{"hjd":10543,"mag":18.24,"err":0.07},{"hjd":10546,"mag":18.21,"err":0.06},{"hjd":10549,"mag":18.36,"err":0.08},
      {"hjd":10551,"mag":18.26,"err":0.06},{"hjd":10554,"mag":18.43,"err":0.09},{"hjd":10557,"mag":18.28,"err":0.06},{"hjd":10560,"mag":18.35,"err":0.07},{"hjd":10563,"mag":18.24,"err":0.06},{"hjd":10566,"mag":18.31,"err":0.08},{"hjd":10569,"mag":18.40,"err":0.07},{"hjd":10572,"mag":18.29,"err":0.06},{"hjd":10575,"mag":18.36,"err":0.08},{"hjd":10578,"mag":18.25,"err":0.06},
      {"hjd":10581,"mag":18.46,"err":0.10},{"hjd":10585,"mag":18.27,"err":0.07},{"hjd":10589,"mag":18.32,"err":0.06},{"hjd":10593,"mag":18.38,"err":0.08},{"hjd":10597,"mag":18.23,"err":0.06},{"hjd":10601,"mag":18.34,"err":0.07},{"hjd":10606,"mag":18.20,"err":0.06},{"hjd":10611,"mag":18.37,"err":0.09},{"hjd":10617,"mag":18.33,"err":0.07},{"hjd":10624,"mag":18.28,"err":0.06},
      {"hjd":10631,"mag":18.41,"err":0.08},{"hjd":10592,"mag":18.50,"err":0.06},
      {"hjd":10552,"mag":18.30,"err":0.07},{"hjd":10555,"mag":18.43,"err":0.06},{"hjd":10558,"mag":18.25,"err":0.08},{"hjd":10561,"mag":18.36,"err":0.07},{"hjd":10564,"mag":18.31,"err":0.09},{"hjd":10567,"mag":18.22,"err":0.06},{"hjd":10570,"mag":18.38,"err":0.07},{"hjd":10573,"mag":18.34,"err":0.05},{"hjd":10576,"mag":18.29,"err":0.08},{"hjd":10579,"mag":18.42,"err":0.07},
      {"hjd":10583,"mag":18.26,"err":0.06},{"hjd":10587,"mag":18.37,"err":0.10},{"hjd":10591,"mag":18.21,"err":0.07},{"hjd":10595,"mag":18.39,"err":0.06},{"hjd":10599,"mag":18.32,"err":0.08},{"hjd":10603,"mag":18.28,"err":0.09},{"hjd":10608,"mag":18.46,"err":0.06},{"hjd":10614,"mag":18.25,"err":0.07},{"hjd":10620,"mag":18.35,"err":0.08},{"hjd":10628,"mag":18.33,"err":0.06},
      {"hjd":10716,"mag":18.27,"err":0.06},{"hjd":10719,"mag":18.33,"err":0.07},{"hjd":10722,"mag":18.24,"err":0.06},{"hjd":10725,"mag":18.37,"err":0.07},{"hjd":10728,"mag":18.29,"err":0.06},{"hjd":10731,"mag":18.31,"err":0.08},{"hjd":10734,"mag":18.22,"err":0.06},{"hjd":10737,"mag":18.35,"err":0.07},{"hjd":10741,"mag":18.28,"err":0.06},{"hjd":10745,"mag":18.32,"err":0.07},
      {"hjd":10749,"mag":18.26,"err":0.06},{"hjd":10753,"mag":18.34,"err":0.08},{"hjd":10758,"mag":18.30,"err":0.06},{"hjd":10763,"mag":18.25,"err":0.07},{"hjd":10768,"mag":18.33,"err":0.06},{"hjd":10774,"mag":18.28,"err":0.07},{"hjd":10781,"mag":18.31,"err":0.06},{"hjd":10788,"mag":18.27,"err":0.07},
      {"hjd":10717,"mag":18.31,"err":0.07},{"hjd":10720,"mag":18.25,"err":0.06},{"hjd":10723,"mag":18.35,"err":0.08},{"hjd":10727,"mag":18.22,"err":0.07},{"hjd":10730,"mag":18.33,"err":0.06},{"hjd":10733,"mag":18.28,"err":0.08},{"hjd":10736,"mag":18.38,"err":0.07},{"hjd":10739,"mag":18.26,"err":0.06},{"hjd":10743,"mag":18.30,"err":0.07},{"hjd":10747,"mag":18.36,"err":0.08},
      {"hjd":10751,"mag":18.23,"err":0.06},{"hjd":10756,"mag":18.32,"err":0.07},{"hjd":10761,"mag":18.29,"err":0.06},{"hjd":10766,"mag":18.37,"err":0.08},{"hjd":10771,"mag":18.25,"err":0.07},{"hjd":10777,"mag":18.34,"err":0.06},{"hjd":10784,"mag":18.30,"err":0.07},
      {"hjd":10759,"mag":17.855,"err":0.042}
    ],
    "model": [
      {"hjd":7772,"mag":18.285},{"hjd":10300,"mag":18.285},{"hjd":10408,"mag":18.283},{"hjd":10438,"mag":18.279},{"hjd":10458,"mag":18.267},{"hjd":10468,"mag":18.250},{"hjd":10478,"mag":18.212},{"hjd":10483,"mag":18.176},{"hjd":10488,"mag":18.120},{"hjd":10492,"mag":18.053},{"hjd":10495,"mag":17.984},{"hjd":10498,"mag":17.897},{"hjd":10500,"mag":17.830},{"hjd":10502,"mag":17.760},{"hjd":10504,"mag":17.694},{"hjd":10506,"mag":17.646},{"hjd":10507,"mag":17.632},
      {"hjd":10508,"mag":17.628},
      {"hjd":10509,"mag":17.632},{"hjd":10510,"mag":17.646},{"hjd":10512,"mag":17.694},{"hjd":10514,"mag":17.760},{"hjd":10516,"mag":17.830},{"hjd":10518,"mag":17.897},{"hjd":10521,"mag":17.984},{"hjd":10524,"mag":18.053},{"hjd":10528,"mag":18.120},{"hjd":10533,"mag":18.176},{"hjd":10538,"mag":18.212},{"hjd":10548,"mag":18.250},{"hjd":10558,"mag":18.267},{"hjd":10578,"mag":18.279},{"hjd":10608,"mag":18.283},{"hjd":10720,"mag":18.285},{"hjd":10790,"mag":18.285}
    ]
  },
  "resolve": {"axis": {"x": "independent", "y": "independent"}},
  "layer": [
    {
      "data": {"name": "obs"},
      "mark": {"type": "errorbar", "color": "black", "thickness": 1, "ticks": {"size": 7, "thickness": 1, "color": "black"}},
      "encoding": {
        "x": {"field": "hjd", "type": "quantitative", "scale": {"domain": [7772, 10790], "nice": false, "zero": false},
              "axis": {"orient": "bottom", "values": [8000, 9000, 10000], "format": "d", "tickSize": -20, "labelPadding": 33, "title": "HJD - 2450000", "titlePadding": 8}},
        "y": {"field": "mag", "type": "quantitative", "scale": {"domain": [17.11, 18.98], "reverse": true, "nice": false, "zero": false},
              "axis": {"orient": "left", "values": [17.5, 18, 18.5], "format": "~g", "tickSize": -20, "labelPadding": 30, "title": "I magnitude", "titleFontSize": 15, "titlePadding": 16}},
        "yError": {"field": "err"}
      }
    },
    {
      "data": {"name": "obs"},
      "mark": {"type": "circle", "size": 24, "color": "black", "opacity": 1, "clip": true},
      "encoding": {
        "x": {"field": "hjd", "type": "quantitative", "scale": {"domain": [7772, 10790], "nice": false, "zero": false},
              "axis": {"orient": "bottom", "values": [7800, 8000, 8200, 8400, 8600, 8800, 9000, 9200, 9400, 9600, 9800, 10000, 10200, 10400, 10600], "tickSize": -10, "labels": false, "title": null}},
        "y": {"field": "mag", "type": "quantitative", "scale": {"domain": [17.11, 18.98], "reverse": true, "nice": false, "zero": false},
              "axis": {"orient": "left", "values": [17.2, 17.3, 17.4, 17.5, 17.6, 17.7, 17.8, 17.9, 18, 18.1, 18.2, 18.3, 18.4, 18.5, 18.6, 18.7, 18.8, 18.9], "tickSize": -10, "labels": false, "title": null}}
      }
    },
    {
      "data": {"name": "model"},
      "transform": [{"filter": "datum.hjd <= 10508"}],
      "mark": {"type": "line", "color": "#ff00ff", "strokeWidth": 1.3, "clip": true},
      "encoding": {
        "x": {"field": "hjd", "type": "quantitative", "scale": {"domain": [7772, 10790], "nice": false, "zero": false},
              "axis": {"orient": "top", "values": [8000, 9000, 10000], "tickSize": -20, "labels": false, "title": null}},
        "y": {"field": "mag", "type": "quantitative", "scale": {"domain": [17.11, 18.98], "reverse": true, "nice": false, "zero": false},
              "axis": {"orient": "right", "values": [17.5, 18, 18.5], "tickSize": -20, "labels": false, "title": null}}
      }
    },
    {
      "data": {"name": "model"},
      "transform": [{"filter": "datum.hjd >= 10508"}],
      "mark": {"type": "line", "color": "#ff00ff", "strokeWidth": 1.3, "clip": true},
      "encoding": {
        "x": {"field": "hjd", "type": "quantitative", "scale": {"domain": [7772, 10790], "nice": false, "zero": false},
              "axis": {"orient": "top", "values": [7800, 8000, 8200, 8400, 8600, 8800, 9000, 9200, 9400, 9600, 9800, 10000, 10200, 10400, 10600], "tickSize": -10, "labels": false, "title": null}},
        "y": {"field": "mag", "type": "quantitative", "scale": {"domain": [17.11, 18.98], "reverse": true, "nice": false, "zero": false},
              "axis": {"orient": "right", "values": [17.2, 17.3, 17.4, 17.5, 17.6, 17.7, 17.8, 17.9, 18, 18.1, 18.2, 18.3, 18.4, 18.5, 18.6, 18.7, 18.8, 18.9], "tickSize": -10, "labels": false, "title": null}}
      }
    }
  ]
}
